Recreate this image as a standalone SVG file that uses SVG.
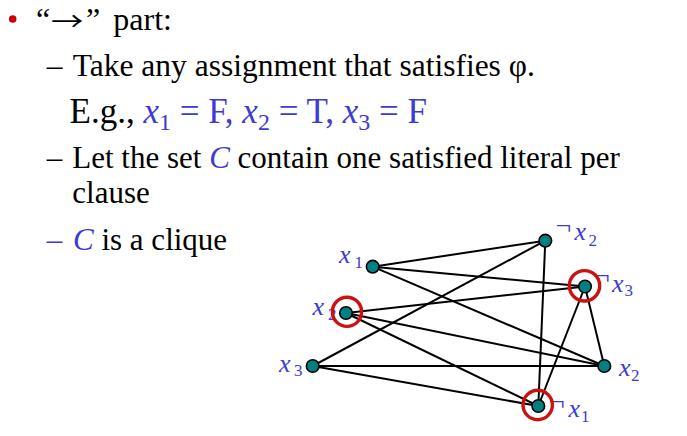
<svg xmlns="http://www.w3.org/2000/svg" width="687" height="436" viewBox="0 0 687 436">
<style>
.t{font-family:"Liberation Serif","Times New Roman",serif;fill:#000}
.b{fill:#3c3cd2}
.i{font-style:italic}
.arr{font-family:"Noto Sans CJK JP",sans-serif;fill:#000}
.lbl{font-family:"Liberation Serif","Times New Roman",serif;fill:#3c3cd2;font-size:26px}
.lbl .x{font-style:italic}
.neg{font-size:28px}
.sub{font-size:17px}
.edge{stroke:#000;stroke-width:2;fill:none}
.node{fill:#008080;stroke:#000;stroke-width:1.6}
.ring{fill:none;stroke:#cc1111;stroke-width:3.4}
</style>
<rect width="687" height="436" fill="#fff"/>
<g id="text">
<circle cx="12.7" cy="19" r="3.8" fill="#cc0000"/>
<text class="t" x="36" y="30" font-size="32">“<tspan x="86">”</tspan><tspan x="113.3">part:</tspan></text>
<text class="arr" x="51" y="31" font-size="26.5" textLength="32.5" lengthAdjust="spacingAndGlyphs">→</text>
<text class="t" x="46.7" y="76" font-size="31.5">–<tspan x="72.7">Take any assignment that satisfies φ.</tspan></text>
<text class="t" x="69.5" y="123" font-size="35">E.g., <tspan class="b i">x</tspan><tspan class="b" font-size="24" dy="7">1</tspan><tspan class="b" dy="-7"> = F, </tspan><tspan class="b i">x</tspan><tspan class="b" font-size="24" dy="7">2</tspan><tspan class="b" dy="-7"> = T, </tspan><tspan class="b i">x</tspan><tspan class="b" font-size="24" dy="7">3</tspan><tspan class="b" dy="-7"> = F</tspan></text>
<text class="t" x="46.7" y="168" font-size="31">–<tspan x="72.3">Let the set </tspan><tspan class="b i">C</tspan> contain one satisfied literal per</text>
<text class="t" x="72.3" y="203" font-size="31">clause</text>
<text class="t" x="46.7" y="250" font-size="31"><tspan class="b">–</tspan><tspan x="73" class="b i">C</tspan> is a clique</text>
</g>
<g id="labels">
<text class="lbl"><tspan class="x" x="339" y="262.7">x</tspan><tspan class="sub" x="354.5" y="267.5">1</tspan></text>
<text class="lbl"><tspan class="neg" x="555.5" y="234.5">¬</tspan><tspan class="x" x="574.5" y="239.5">x</tspan><tspan class="sub" x="588.5" y="246">2</tspan></text>
<text class="lbl"><tspan class="neg" x="594" y="284.5">¬</tspan><tspan class="x" x="612" y="291.5">x</tspan><tspan class="sub" x="624.5" y="295.5">3</tspan></text>
<text class="lbl"><tspan class="x" x="312.5" y="315">x</tspan><tspan class="sub" x="328" y="320">2</tspan></text>
<text class="lbl"><tspan class="x" x="279" y="371.5">x</tspan><tspan class="sub" x="294" y="376">3</tspan></text>
<text class="lbl"><tspan class="x" x="619" y="375.5">x</tspan><tspan class="sub" x="631" y="380.5">2</tspan></text>
<text class="lbl"><tspan class="neg" x="549" y="410.5">¬</tspan><tspan class="x" x="568.5" y="416.7">x</tspan><tspan class="sub" x="581" y="421.5">1</tspan></text>
</g>
<g id="connectors">
<line class="edge" x1="372.7" y1="266.7" x2="545.3" y2="240.7"/>
<line class="edge" x1="372.7" y1="266.7" x2="585" y2="286.5"/>
<line class="edge" x1="372.7" y1="266.7" x2="604.3" y2="366"/>
<line class="edge" x1="545.3" y1="240.7" x2="312.7" y2="366"/>
<line class="edge" x1="545.3" y1="240.7" x2="538.3" y2="406"/>
<line class="edge" x1="585" y1="286.5" x2="346" y2="313"/>
<line class="edge" x1="585" y1="286.5" x2="538.3" y2="406"/>
<line class="edge" x1="585" y1="286.5" x2="604.3" y2="366"/>
<line class="edge" x1="346" y1="313" x2="604.3" y2="366"/>
<line class="edge" x1="346" y1="313" x2="538.3" y2="406"/>
<line class="edge" x1="312.7" y1="366" x2="604.3" y2="366"/>
<line class="edge" x1="312.7" y1="366" x2="538.3" y2="406"/>
</g>
<g id="n_x1"><circle class="node" cx="372.7" cy="266.7" r="6.3"/></g>
<g id="n_nx2"><circle class="node" cx="545.3" cy="240.7" r="6.3"/></g>
<g id="n_nx3"><circle class="node" cx="585" cy="286.5" r="6.3"/><circle class="ring" cx="584.5" cy="285.8" r="15.2"/></g>
<g id="n_x2a"><circle class="node" cx="346" cy="313" r="6.3"/><circle class="ring" cx="347" cy="311.8" r="14.6"/></g>
<g id="n_x3"><circle class="node" cx="312.7" cy="366" r="6.3"/></g>
<g id="n_x2b"><circle class="node" cx="604.3" cy="366" r="6.3"/></g>
<g id="n_nx1"><circle class="node" cx="538.3" cy="406" r="6.3"/><circle class="ring" cx="537.7" cy="405" r="14.7"/></g>
</svg>
